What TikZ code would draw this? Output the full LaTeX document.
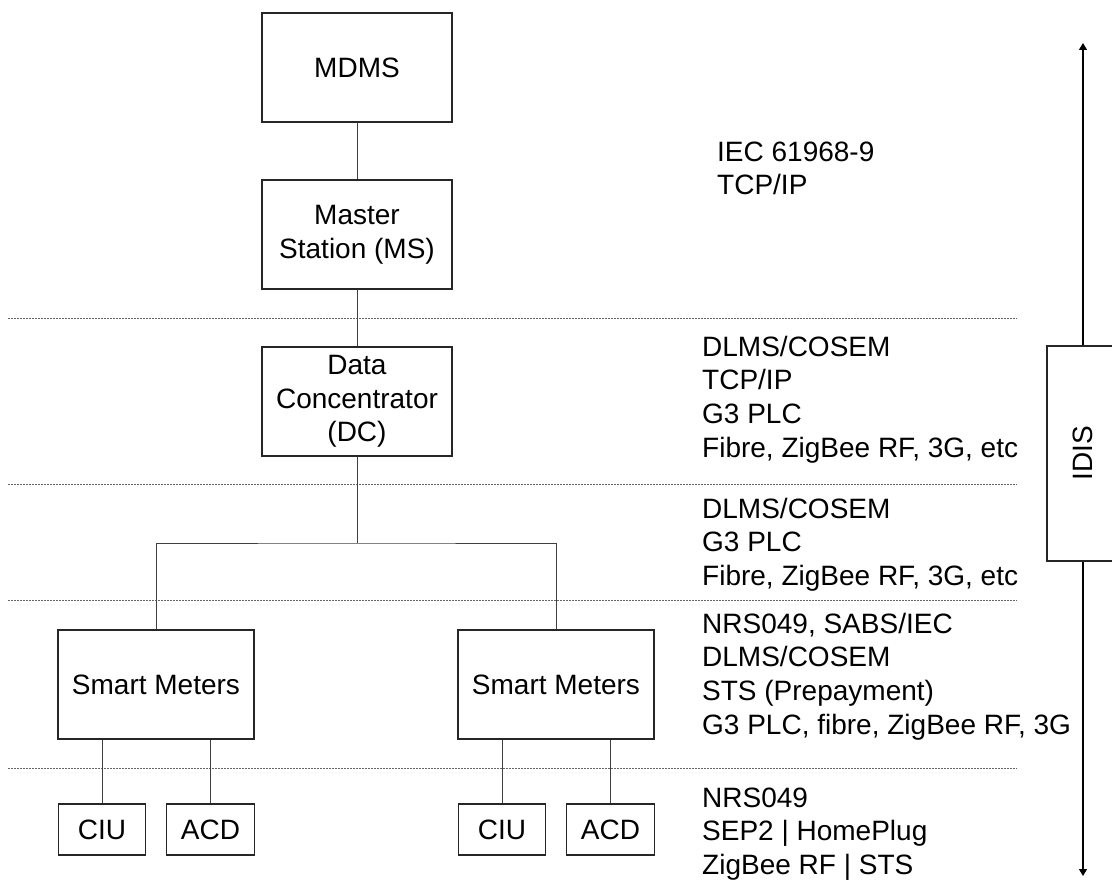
\documentclass[tikz,border=0pt]{standalone}
\usepackage{fontspec}
\setmainfont{Liberation Sans}
\usetikzlibrary{arrows.meta}
\begin{document}
\begin{tikzpicture}[x=1pt,y=-1pt,
  txt/.style={font=\fontsize{28}{33.7}\selectfont},
  box/.style={txt,draw=black!85,line width=1.1pt,rectangle,inner sep=0pt,align=center,fill=white},
  bigbox/.style={box,minimum width=190pt,minimum height=109pt},
  meterbox/.style={box,minimum width=196pt,minimum height=109pt},
  smallbox/.style={box,minimum width=87.5pt,minimum height=51pt},
  proto/.style={txt,anchor=north west,inner sep=0pt,align=left},
  link/.style={draw=black!75,line width=1pt},
  sep/.style={draw=black!60,line width=0.8pt,dash pattern=on 2pt off 1pt},
  axis/.style={draw=black,line width=1.2pt},
  tip/.style={-{Triangle[width=8pt,length=7pt]}}
]
\useasboundingbox (0,0) rectangle (1112,888);

% separators
\coordinate (s1a) at (8,318);  \coordinate (s1b) at (1017,318);
\coordinate (s2a) at (8,484);  \coordinate (s2b) at (1017,484);
\coordinate (s3a) at (8,600);  \coordinate (s3b) at (1017,600);
\coordinate (s4a) at (8,768);  \coordinate (s4b) at (1017,768);
\draw[sep] (s1a) -- (s1b);
\draw[sep] (s2a) -- (s2b);
\draw[sep] (s3a) -- (s3b);
\draw[sep] (s4a) -- (s4b);

% boxes
\node[bigbox] (mdms) at (357,67.5) {MDMS};
\node[bigbox] (ms) at (357,234.5) {Master\\Station (MS)};
\node[bigbox] (dc) at (357,401.5) {Data\\Concentrator\\(DC)};
\node[meterbox] (sm1) at (156,684.5) {Smart Meters};
\node[meterbox] (sm2) at (556,684.5) {Smart Meters};
\node[smallbox] (ciu1) at (102,829.5) {CIU};
\node[smallbox] (acd1) at (210.5,829.5) {ACD};
\node[smallbox] (ciu2) at (502,829.5) {CIU};
\node[smallbox] (acd2) at (610.5,829.5) {ACD};

% connectors
\coordinate (j) at (357,543);
\draw[link] (mdms.south) -- (ms.north);
\draw[link] (ms.south) -- (dc.north);
\draw[link] (dc.south) -- (j);
\draw[link] (sm1.north) |- (j) -| (sm2.north);
\draw[link] (ciu1.north) -- (ciu1.north |- sm1.south);
\draw[link] (acd1.north) -- (acd1.north |- sm1.south);
\draw[link] (ciu2.north) -- (ciu2.north |- sm2.south);
\draw[link] (acd2.north) -- (acd2.north |- sm2.south);

% protocol texts
\node[proto] (p1) at (717,137.5) {\strut IEC 61968-9\\\strut TCP/IP};
\node[proto] (p2) at (702,332.5) {\strut DLMS/COSEM\\\strut TCP/IP\\\strut G3 PLC\\\strut Fibre, ZigBee RF, 3G, etc};
\node[proto] (p3) at (702,494.5) {\strut DLMS/COSEM\\\strut G3 PLC\\\strut Fibre, ZigBee RF, 3G, etc};
\node[proto] (p4) at (702,609.5) {\strut NRS049, SABS/IEC\\\strut DLMS/COSEM\\\strut STS (Prepayment)\\\strut G3 PLC, fibre, ZigBee RF, 3G};
\node[proto] (p5) at (702,783.5) {\strut NRS049\\\strut SEP2 | HomePlug\\\strut ZigBee RF | STS};

% IDIS axis
\coordinate (top) at (1083,43);
\coordinate (bot) at (1083,876);
\node[box,minimum width=72pt,minimum height=215pt] (idis) at (1083,453.5) {\rotatebox{90}{IDIS}};
\draw[axis,tip] (idis.north) -- (top);
\draw[axis,tip] (idis.south) -- (bot);
\end{tikzpicture}
\end{document}
